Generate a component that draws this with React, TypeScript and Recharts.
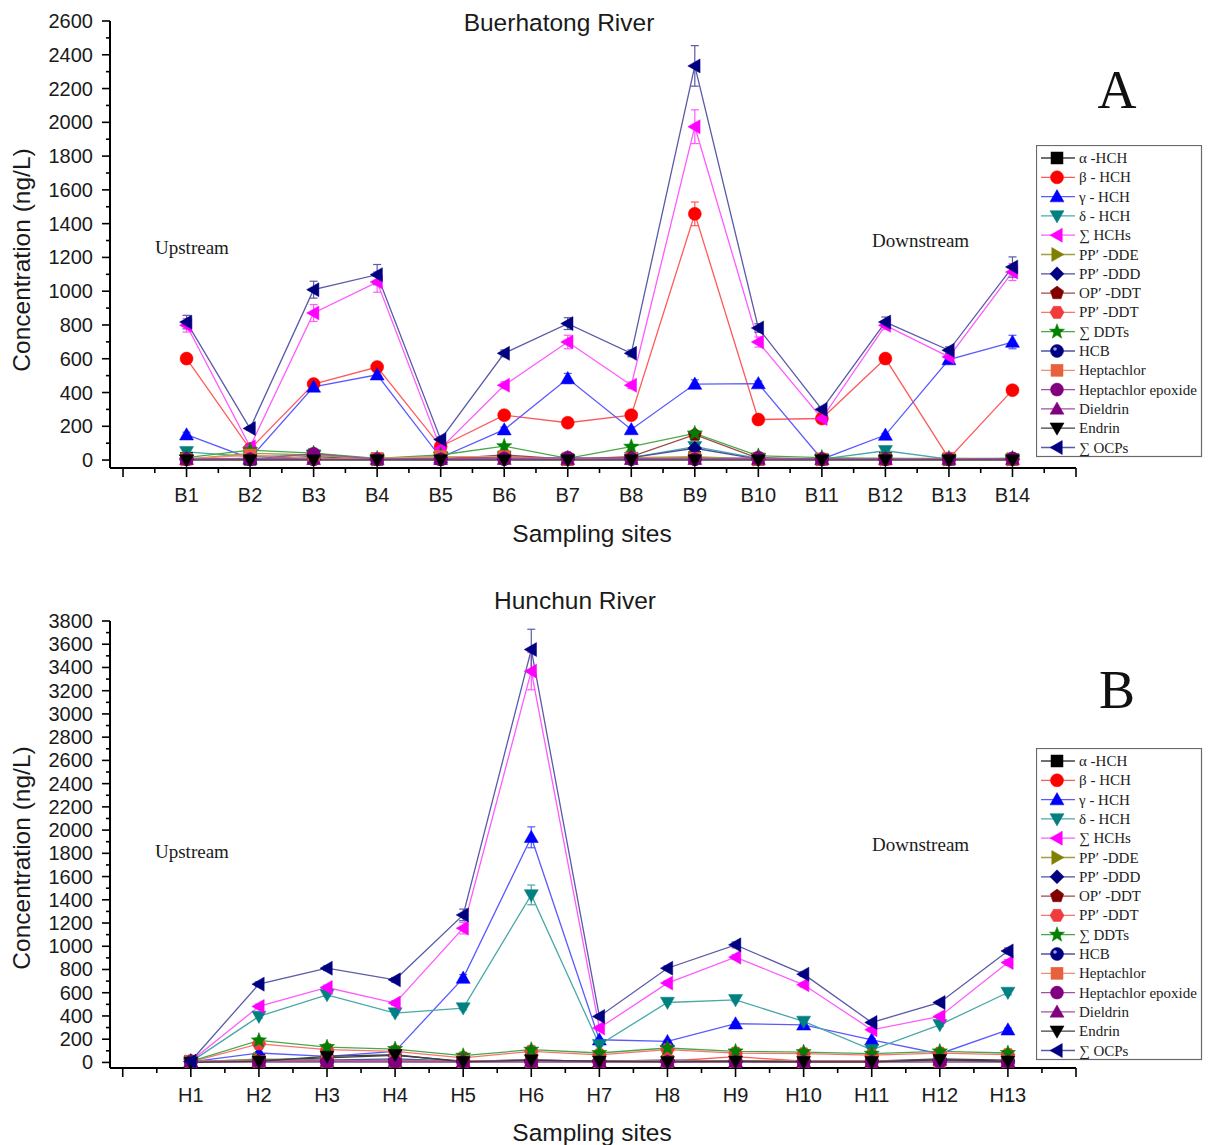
import React from 'react';
import { LineChart, Line, XAxis, YAxis, ErrorBar, Legend } from 'recharts';

// ---------- categories ----------
const sitesA = ['B1', 'B2', 'B3', 'B4', 'B5', 'B6', 'B7', 'B8', 'B9', 'B10', 'B11', 'B12', 'B13', 'B14'];
const sitesB = ['H1', 'H2', 'H3', 'H4', 'H5', 'H6', 'H7', 'H8', 'H9', 'H10', 'H11', 'H12', 'H13'];

// ---------- Buerhatong River (A) ----------
const aAlpha = [10, 5, 20, 5, 10, 15, 5, 10, 15, 5, 5, 10, 5, 5];
const aBeta = [601, 65, 450, 551, 80, 266, 221, 266, 1458, 240, 246, 601, 10, 414];
const aGamma = [150, 10, 433, 505, 15, 180, 483, 181, 450, 453, 5, 148, 595, 699];
const aDelta = [49, 20, 30, 5, 20, 20, 5, 15, 79, 10, 5, 55, 5, 5];
const aHCHs = [798, 79, 871, 1054, 69, 443, 699, 443, 1974, 699, 246, 798, 611, 1113];
const aDDE = [5, 40, 30, 5, 20, 15, 5, 15, 20, 5, 5, 5, 5, 5];
const aDDD = [5, 5, 5, 5, 5, 20, 5, 15, 70, 5, 5, 5, 5, 5];
const aOPDDT = [5, 10, 10, 5, 5, 30, 5, 20, 150, 10, 5, 5, 5, 5];
const aPPDDT = [5, 10, 5, 5, 5, 10, 5, 10, 10, 5, 5, 5, 5, 5];
const aDDTs = [15, 59, 41, 10, 30, 82, 10, 79, 158, 25, 15, 10, 10, 10];
const aHCB = [5, 5, 5, 5, 5, 5, 5, 5, 5, 5, 5, 5, 5, 5];
const aHepta = [5, 30, 10, 10, 20, 20, 5, 10, 10, 5, 5, 5, 10, 5];
const aHeptaEp = [5, 5, 38, 5, 5, 10, 15, 10, 5, 15, 5, 5, 5, 10];
const aDieldrin = [5, 5, 5, 5, 5, 5, 5, 5, 5, 5, 5, 5, 5, 5];
const aEndrin = [0, 0, 0, 0, 0, 0, 0, 0, 0, 0, 0, 0, 0, 0];
const aOCPs = [817, 187, 1009, 1098, 122, 632, 808, 632, 2334, 782, 300, 817, 650, 1143];
const aOCPsErr = [40, 10, 50, 60, 15, 20, 35, 20, 120, 25, 15, 30, 20, 60];
const aHCHsErr = [40, 10, 50, 60, 15, 20, 40, 20, 100, 30, 15, 25, 20, 50];
const aBetaErr = [15, 10, 15, 20, 10, 10, 10, 10, 70, 10, 10, 15, 5, 15];
const aGammaErr = [15, 5, 20, 20, 5, 15, 30, 15, 25, 15, 5, 10, 20, 40];

// ---------- Hunchun River (B) ----------
const bAlpha = [10, 20, 40, 60, 10, 20, 10, 10, 10, 10, 10, 30, 20];
const bBeta = [10, 10, 10, 10, 10, 10, 10, 10, 50, 10, 10, 10, 10];
const bGamma = [5, 81, 52, 95, 726, 1938, 195, 181, 333, 324, 195, 75, 281];
const bDelta = [5, 396, 582, 425, 468, 1442, 152, 516, 539, 353, 109, 324, 602];
const bHCHs = [10, 482, 645, 511, 1156, 3368, 296, 683, 906, 668, 281, 396, 860];
const bDDE = [5, 30, 20, 20, 10, 20, 10, 20, 10, 10, 10, 20, 10];
const bDDD = [5, 20, 20, 30, 10, 20, 10, 20, 10, 10, 10, 20, 10];
const bOPDDT = [5, 15, 10, 10, 10, 10, 10, 10, 10, 10, 10, 10, 10];
const bPPDDT = [5, 160, 110, 95, 40, 95, 65, 110, 80, 75, 62, 80, 68];
const bDDTs = [10, 189, 132, 115, 58, 110, 81, 124, 95, 89, 75, 95, 81];
const bHCB = [10, 5, 5, 5, 5, 5, 5, 5, 5, 5, 5, 5, 5];
const bHepta = [10, 10, 10, 10, 10, 10, 10, 10, 10, 10, 10, 10, 10];
const bHeptaEp = [5, 5, 5, 5, 5, 5, 5, 5, 5, 5, 5, 5, 5];
const bDieldrin = [5, 10, 10, 10, 5, 10, 5, 10, 5, 5, 5, 20, 5];
const bEndrin = [0, 10, 52, 66, 5, 20, 10, 5, 10, 5, 5, 23, 10];
const bOCPs = [10, 674, 811, 711, 1270, 3554, 396, 811, 1012, 760, 344, 516, 960];
const bOCPsErr = [5, 20, 20, 20, 50, 175, 15, 20, 25, 20, 15, 15, 25];
const bHCHsErr = [5, 20, 20, 20, 50, 160, 15, 20, 20, 20, 15, 15, 25];
const bGammaErr = [3, 10, 10, 10, 30, 90, 10, 10, 15, 15, 10, 5, 15];
const bDeltaErr = [3, 15, 15, 15, 15, 85, 10, 15, 15, 15, 10, 15, 20];

// ---------- axis ticks ----------
const yTicksA = Array.from({ length: 27 }, (_, i) => i * 100);
const yTicksB = Array.from({ length: 39 }, (_, i) => i * 100);
const xTicksA = Array.from({ length: 31 }, (_, i) => i * 0.5);
const xTicksB = Array.from({ length: 29 }, (_, i) => i * 0.5);

// ---------- series styles ----------
type Shape = 'square' | 'circle' | 'triUp' | 'triDown' | 'triLeft' | 'triRight' | 'diamond' | 'pentagon' | 'hexagon' | 'star' | 'sphere';
interface SeriesDef { key: string; name: string; color: string; line: string; shape: Shape; }
const SERIES: SeriesDef[] = [
  { key: 'alpha', name: 'α -HCH', color: '#000000', line: '#404040', shape: 'square' },
  { key: 'beta', name: 'β - HCH', color: '#ff0000', line: '#ff5a5a', shape: 'circle' },
  { key: 'gamma', name: 'γ - HCH', color: '#0000ff', line: '#5a5aff', shape: 'triUp' },
  { key: 'delta', name: 'δ - HCH', color: '#008080', line: '#4aa8a8', shape: 'triDown' },
  { key: 'hchs', name: '∑ HCHs', color: '#ff00ff', line: '#ff5aff', shape: 'triLeft' },
  { key: 'dde', name: 'PP′ -DDE', color: '#808000', line: '#a0a040', shape: 'triRight' },
  { key: 'ddd', name: 'PP′ -DDD', color: '#000080', line: '#5050a0', shape: 'diamond' },
  { key: 'opddt', name: 'OP′ -DDT', color: '#800000', line: '#a04848', shape: 'pentagon' },
  { key: 'ppddt', name: 'PP′ -DDT', color: '#f03c3c', line: '#ff7070', shape: 'hexagon' },
  { key: 'ddts', name: '∑ DDTs', color: '#008000', line: '#48a848', shape: 'star' },
  { key: 'hcb', name: 'HCB', color: '#000080', line: '#5050a0', shape: 'sphere' },
  { key: 'hepta', name: 'Heptachlor', color: '#e8603c', line: '#f09070', shape: 'square' },
  { key: 'heptaEp', name: 'Heptachlor epoxide', color: '#800080', line: '#a050a0', shape: 'circle' },
  { key: 'dieldrin', name: 'Dieldrin', color: '#800080', line: '#a050a0', shape: 'triUp' },
  { key: 'endrin', name: 'Endrin', color: '#000000', line: '#404040', shape: 'triDown' },
  { key: 'ocps', name: '∑ OCPs', color: '#000080', line: '#5a5aa8', shape: 'triLeft' },
];
const SERIES_INDEX: Record<string, number> = Object.fromEntries(SERIES.map((s, i) => [s.key, i]));

function buildRows(sites: string[], vals: Record<string, number[]>, errs: Record<string, number[]>) {
  return sites.map((site, i) => {
    const row: Record<string, any> = { x: i + 1, site };
    Object.keys(vals).forEach((k) => { row[k] = vals[k][i]; });
    Object.keys(errs).forEach((k) => { row[k + 'Err'] = errs[k][i]; });
    return row;
  });
}

const rowsA = buildRows(
  sitesA,
  { alpha: aAlpha, beta: aBeta, gamma: aGamma, delta: aDelta, hchs: aHCHs, dde: aDDE, ddd: aDDD, opddt: aOPDDT, ppddt: aPPDDT, ddts: aDDTs, hcb: aHCB, hepta: aHepta, heptaEp: aHeptaEp, dieldrin: aDieldrin, endrin: aEndrin, ocps: aOCPs },
  { ocps: aOCPsErr, hchs: aHCHsErr, beta: aBetaErr, gamma: aGammaErr }
);
const rowsB = buildRows(
  sitesB,
  { alpha: bAlpha, beta: bBeta, gamma: bGamma, delta: bDelta, hchs: bHCHs, dde: bDDE, ddd: bDDD, opddt: bOPDDT, ppddt: bPPDDT, ddts: bDDTs, hcb: bHCB, hepta: bHepta, heptaEp: bHeptaEp, dieldrin: bDieldrin, endrin: bEndrin, ocps: bOCPs },
  { ocps: bOCPsErr, hchs: bHCHsErr, gamma: bGammaErr, delta: bDeltaErr }
);

// ---------- markers ----------
function poly(cx: number, cy: number, n: number, r: number, rot: number) {
  const pts: string[] = [];
  for (let i = 0; i < n; i++) {
    const a = rot + (i * 2 * Math.PI) / n;
    pts.push(`${cx + r * Math.cos(a)},${cy + r * Math.sin(a)}`);
  }
  return pts.join(' ');
}
function starPts(cx: number, cy: number, ro: number, ri: number) {
  const pts: string[] = [];
  for (let i = 0; i < 10; i++) {
    const r = i % 2 === 0 ? ro : ri;
    const a = -Math.PI / 2 + (i * Math.PI) / 5;
    pts.push(`${cx + r * Math.cos(a)},${cy + r * Math.sin(a)}`);
  }
  return pts.join(' ');
}

function Marker({ cx, cy, shape, color, s = 7 }: { cx: number; cy: number; shape: Shape; color: string; s?: number }) {
  const common = { fill: color, stroke: color, strokeWidth: 0.5 };
  switch (shape) {
    case 'square':
      return <rect x={cx - s + 1} y={cy - s + 1} width={2 * s - 2} height={2 * s - 2} {...common} />;
    case 'circle':
      return <circle cx={cx} cy={cy} r={s - 0.5} {...common} />;
    case 'sphere':
      return (
        <g>
          <circle cx={cx} cy={cy} r={s - 0.5} {...common} />
          <circle cx={cx - 2} cy={cy - 2} r={1.8} fill="#9aa0e0" />
        </g>
      );
    case 'triUp':
      return <polygon points={`${cx},${cy - s} ${cx + s},${cy + s * 0.75} ${cx - s},${cy + s * 0.75}`} {...common} />;
    case 'triDown':
      return <polygon points={`${cx},${cy + s} ${cx + s},${cy - s * 0.75} ${cx - s},${cy - s * 0.75}`} {...common} />;
    case 'triLeft':
      return <polygon points={`${cx - s},${cy} ${cx + s * 0.75},${cy - s} ${cx + s * 0.75},${cy + s}`} {...common} />;
    case 'triRight':
      return <polygon points={`${cx + s},${cy} ${cx - s * 0.75},${cy - s} ${cx - s * 0.75},${cy + s}`} {...common} />;
    case 'diamond':
      return <polygon points={`${cx},${cy - s} ${cx + s},${cy} ${cx},${cy + s} ${cx - s},${cy}`} {...common} />;
    case 'pentagon':
      return <polygon points={poly(cx, cy, 5, s, -Math.PI / 2)} {...common} />;
    case 'hexagon':
      return <polygon points={poly(cx, cy, 6, s, 0)} {...common} />;
    case 'star':
      return <polygon points={starPts(cx, cy, s + 1, (s + 1) * 0.42)} {...common} />;
    default:
      return null;
  }
}

// ---------- ticks ----------
const tickFont = { fontFamily: '"Liberation Sans", Arial, sans-serif', fontSize: 20, fill: '#1a1a1a' };

const makeXTick = (labels: string[]) => (props: any) => {
  const { x, y, payload } = props;
  const v = payload.value as number;
  const major = Math.abs(v - Math.round(v)) < 1e-6;
  const idx = Math.round(v);
  const label = major && idx >= 1 && idx <= labels.length ? labels[idx - 1] : '';
  return (
    <g>
      <line x1={x} x2={x} y1={y} y2={y + (major ? 9 : 5)} stroke="#000" strokeWidth={1.6} />
      {label ? (
        <text x={x} y={y + 34} textAnchor="middle" {...tickFont}>{label}</text>
      ) : null}
    </g>
  );
};

const YTick = (props: any) => {
  const { x, y, payload } = props;
  const v = payload.value as number;
  const major = v % 200 === 0;
  return (
    <g>
      <line x1={x} x2={x - (major ? 8 : 4)} y1={y} y2={y} stroke="#000" strokeWidth={1.6} />
      {major ? (
        <text x={x - 17} y={y + 7} textAnchor="end" {...tickFont}>{v}</text>
      ) : null}
    </g>
  );
};

// ---------- legend ----------
const renderLegend = (props: any) => {
  const items: any[] = [...(props.payload || [])]
    .filter((it: any) => SERIES_INDEX[it.dataKey as string] !== undefined)
    .sort((a: any, b: any) => SERIES_INDEX[a.dataKey] - SERIES_INDEX[b.dataKey]);
  return (
    <svg width={167} height={313} style={{ display: 'block' }}>
      <rect x={0.5} y={0.5} width={165} height={311} fill="#fff" stroke="#6a6a6a" strokeWidth={1.2} />
      {items.map((it: any, i: number) => {
        const s = SERIES[SERIES_INDEX[it.dataKey as string]];
        const cy = 13 + i * 19.3;
        return (
          <g key={s.key}>
            <line x1={5} x2={39} y1={cy} y2={cy} stroke={s.line} strokeWidth={1.3} />
            <Marker cx={21} cy={cy} shape={s.shape} color={s.color} s={7} />
            <text x={43} y={cy + 5} fontFamily='"Liberation Serif", "Times New Roman", serif' fontSize={15} fill="#222">{s.name}</text>
          </g>
        );
      })}
    </svg>
  );
};

// ---------- chart ----------
interface PanelProps {
  rows: any[];
  sites: string[];
  height: number;
  top: number;
  marginTop: number;
  xAxisHeight: number;
  xDomain: [number, number];
  xTicks: number[];
  yDomain: [number, number];
  yTicks: number[];
  errKeys: string[];
  legendTop: number;
}

function Panel(p: PanelProps) {
  return (
    <div style={{ position: 'absolute', left: 0, top: p.top }}>
      <LineChart width={1212} height={p.height} data={p.rows} margin={{ top: p.marginTop, right: 136, left: 0, bottom: 0 }}>
        <XAxis
          dataKey="x"
          type="number"
          domain={p.xDomain}
          allowDataOverflow
          ticks={p.xTicks}
          interval={0}
          height={p.xAxisHeight}
          tickSize={0}
          tickMargin={0}
          tickLine={false}
          axisLine={{ stroke: '#000', strokeWidth: 2 }}
          tick={makeXTick(p.sites)}
        />
        <YAxis
          type="number"
          domain={p.yDomain}
          allowDataOverflow
          ticks={p.yTicks}
          interval={0}
          width={110}
          tickSize={0}
          tickMargin={0}
          tickLine={false}
          axisLine={{ stroke: '#000', strokeWidth: 2 }}
          tick={YTick}
        />
        <Legend
          layout="vertical"
          align="center"
          verticalAlign="middle"
          itemSorter={null as any}
          content={renderLegend}
          wrapperStyle={{ left: 1036, top: p.legendTop, width: 167, height: 313, right: 'auto', bottom: 'auto' }}
        />
        {SERIES.map((s) => (
          <Line
            key={s.key}
            dataKey={s.key}
            name={s.name}
            type="linear"
            stroke={s.line}
            strokeWidth={1.3}
            isAnimationActive={false}
            activeDot={false}
            dot={(d: any) => {
              const k = `${s.key}-${d.index}`;
              if (d.cx == null || d.cy == null) return <g key={k} />;
              return (
                <g key={k}>
                  <Marker cx={d.cx} cy={d.cy} shape={s.shape} color={s.color} s={7} />
                </g>
              );
            }}
          >
            {p.errKeys.includes(s.key) ? (
              <ErrorBar dataKey={s.key + 'Err'} width={4} stroke={s.line} strokeWidth={1.2} direction="y" isAnimationActive={false} />
            ) : null}
          </Line>
        ))}
      </LineChart>
    </div>
  );
}

const sans = '"Liberation Sans", Arial, sans-serif';
const serif = '"Liberation Serif", "Times New Roman", serif';

export default function App() {
  return (
    <div style={{ position: 'absolute', left: 0, top: 0, width: 1212, height: 1145, background: '#fff', overflow: 'hidden' }}>
      <Panel
        rows={rowsA}
        sites={sitesA}
        top={0}
        height={580}
        marginTop={21}
        xAxisHeight={112}
        xDomain={[-0.205, 15]}
        xTicks={xTicksA}
        yDomain={[-47, 2600]}
        yTicks={yTicksA}
        errKeys={['ocps', 'hchs', 'beta', 'gamma']}
        legendTop={145}
      />
      <Panel
        rows={rowsB}
        sites={sitesB}
        top={580}
        height={565}
        marginTop={41}
        xAxisHeight={77}
        xDomain={[-0.187, 14]}
        xTicks={xTicksB}
        yDomain={[-48, 3800]}
        yTicks={yTicksB}
        errKeys={['ocps', 'hchs', 'gamma', 'delta']}
        legendTop={168}
      />
      <svg width={1212} height={1145} style={{ position: 'absolute', left: 0, top: 0, pointerEvents: 'none' }}>
        <text x={559} y={31} textAnchor="middle" fontFamily={sans} fontSize={24.5} fill="#1a1a1a">Buerhatong River</text>
        <text x={575} y={609} textAnchor="middle" fontFamily={sans} fontSize={24.5} fill="#1a1a1a">Hunchun River</text>
        <text x={592} y={542} textAnchor="middle" fontFamily={sans} fontSize={24.5} fill="#1a1a1a">Sampling sites</text>
        <text x={592} y={1141} textAnchor="middle" fontFamily={sans} fontSize={24.5} fill="#1a1a1a">Sampling sites</text>
        <text transform="translate(30,260) rotate(-90)" textAnchor="middle" fontFamily={sans} fontSize={24.5} fill="#1a1a1a">Concentration (ng/L)</text>
        <text transform="translate(30,858) rotate(-90)" textAnchor="middle" fontFamily={sans} fontSize={24.5} fill="#1a1a1a">Concentration (ng/L)</text>
        <text x={155} y={254} fontFamily={serif} fontSize={19} fill="#1a1a1a">Upstream</text>
        <text x={872} y={247} fontFamily={serif} fontSize={19} fill="#1a1a1a">Downstream</text>
        <text x={155} y={858} fontFamily={serif} fontSize={19} fill="#1a1a1a">Upstream</text>
        <text x={872} y={851} fontFamily={serif} fontSize={19} fill="#1a1a1a">Downstream</text>
        <text x={1117} y={108} textAnchor="middle" fontFamily={serif} fontSize={54} fill="#111">A</text>
        <text x={1117} y={708} textAnchor="middle" fontFamily={serif} fontSize={54} fill="#111">B</text>
      </svg>
    </div>
  );
}
